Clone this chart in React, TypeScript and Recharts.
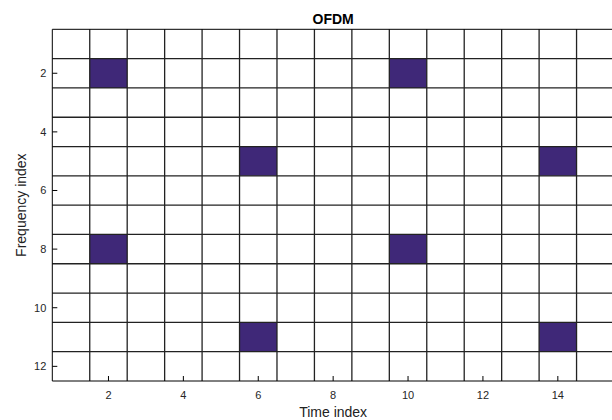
import React from 'react';
import { ScatterChart, Scatter, XAxis, YAxis, ReferenceArea, ReferenceLine } from 'recharts';

// pilot cells (time index, frequency index)
const pilotTime = [2, 10, 6, 14, 2, 10, 6, 14];
const pilotFreq = [2, 2, 5, 5, 8, 8, 11, 11];

const timeTicks = [2, 4, 6, 8, 10, 12, 14];
const freqTicks = [2, 4, 6, 8, 10, 12];

// resource grid boundaries
const timeEdges = [1.5, 2.5, 3.5, 4.5, 5.5, 6.5, 7.5, 8.5, 9.5, 10.5, 11.5, 12.5, 13.5, 14.5];
const freqEdges = [1.5, 2.5, 3.5, 4.5, 5.5, 6.5, 7.5, 8.5, 9.5, 10.5, 11.5];

const pilots = pilotTime.map((t, i) => ({ t, f: pilotFreq[i] }));

const font = '"Liberation Sans", Arial, sans-serif';
const tickStyle = { fontSize: 11, fill: '#262626', fontFamily: font };

const App = () => {
   return (
      <div style={{ position: 'absolute', left: 0, top: 0, width: 612, height: 420, overflow: 'hidden', background: '#fff' }}>
         <ScatterChart
            width={620}
            height={420}
            margin={{ top: 29.3, right: 6, bottom: 0, left: 0 }}
            style={{ fontFamily: font }}
         >
            <XAxis
               type="number"
               dataKey="t"
               domain={[0.5, 15.5]}
               ticks={timeTicks}
               allowDataOverflow
               height={39}
               tickSize={-5}
               tickMargin={15}
               stroke="#000"
               tick={tickStyle}
               label={{ value: 'Time index', position: 'insideBottom', offset: 3, style: { fontSize: 14, fill: '#222', fontFamily: font } }}
            />
            <XAxis
               xAxisId="top"
               orientation="top"
               type="number"
               domain={[0.5, 15.5]}
               ticks={timeTicks}
               allowDataOverflow
               height={0}
               tickSize={-5}
               tick={false}
               stroke="#000"
            />
            <YAxis
               type="number"
               dataKey="f"
               domain={[0.5, 12.5]}
               ticks={freqTicks}
               reversed
               allowDataOverflow
               width={52.3}
               tickSize={-5}
               tickMargin={11}
               stroke="#000"
               tick={tickStyle}
               label={{ value: 'Frequency index', angle: -90, position: 'insideLeft', offset: 21, style: { fontSize: 14, fill: '#222', fontFamily: font, textAnchor: 'middle' } }}
            />
            <YAxis
               yAxisId="right"
               orientation="right"
               type="number"
               domain={[0.5, 12.5]}
               ticks={freqTicks}
               reversed
               allowDataOverflow
               width={0}
               tickSize={-5}
               tick={false}
               stroke="#000"
            />
            {pilots.map((p, i) => (
               <ReferenceArea
                  key={'p' + i}
                  x1={p.t - 0.5}
                  x2={p.t + 0.5}
                  y1={p.f - 0.5}
                  y2={p.f + 0.5}
                  fill="#3f2878"
                  fillOpacity={1}
                  stroke="none"
               />
            ))}
            {timeEdges.map((x) => (
               <ReferenceLine key={'x' + x} x={x} stroke="#222" strokeWidth={1.3} />
            ))}
            {freqEdges.map((y) => (
               <ReferenceLine key={'y' + y} y={y} stroke="#222" strokeWidth={1.3} />
            ))}
            <ReferenceLine
               y={0.5}
               stroke="#000"
               label={{ value: 'OFDM', position: 'top', offset: 5, style: { fontSize: 14, fontWeight: 'bold', fill: '#000', fontFamily: font } }}
            />
            <Scatter data={pilots} isAnimationActive={false} shape={() => <g />} />
         </ScatterChart>
      </div>
   );
};

export default App;
